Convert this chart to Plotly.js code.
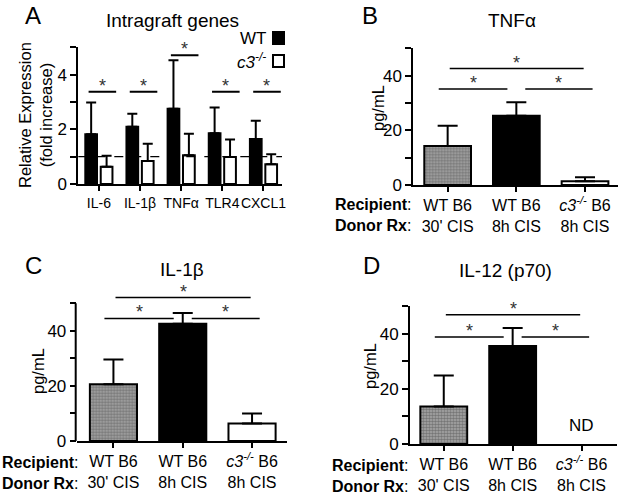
<!DOCTYPE html>
<html>
<head>
<meta charset="utf-8">
<script src="https://cdn.plot.ly/plotly-3.0.1.min.js"></script>
<style>html,body{margin:0;padding:0;background:#fff}#chart{width:626px;height:498px}</style>
</head>
<body>
<div id="chart"></div>
<script>
// ---------- Panel A: intragraft genes (fold increase) ----------
const genes = ['IL-6', 'IL-1β', 'TNFα', 'TLR4', 'CXCL1'];
const wtMean = [1.82, 2.09, 2.75, 1.86, 1.65];
const wtUpper = [2.98, 2.57, 4.53, 2.80, 2.31];
const koMean = [0.63, 0.84, 1.05, 0.99, 0.72];
const koUpper = [1.03, 1.47, 1.84, 1.63, 1.09];
const geneSigY = [3.37, 3.37, 4.71, 3.37, 3.37];

// ---------- Panels B-D: cytokines (pg/mL) ----------
const groups = ["WT B6<br>30' CIS", 'WT B6<br>8h CIS', '<i>c3<sup>-/-</sup></i> B6<br>8h CIS'];
const tnfMean = [14.3, 25.3, 1.35];
const tnfUpper = [21.7, 30.3, 2.8];
const il1bMean = [20.6, 42.6, 6.4];
const il1bUpper = [29.6, 46.5, 10.0];
const il12Mean = [13.6, 35.5, null];
const il12Upper = [24.8, 42.0, null];
// significance bracket heights: [0 vs 2, 0 vs 1 / 1 vs 2]
const tnfSig = [42.6, 35.1];
const il1bSig = [52.1, 44.5];
const il12Sig = [46.8, 38.8];

// y tick values (labelled / unlabelled)
const aTicks = [0, 2, 4], aMinor = [1, 3, 5];
const pgTicks = [0, 20, 40], pgMinor = [10, 30, 50];

const W = 626, H = 498;
const FONT = 'Liberation Sans, Arial, sans-serif';
const FS = 16;
const px = v => v / W;
const py = v => 1 - v / H;

const pattern = {shape: ['.', '', ''], size: 3, solidity: 0.55, fgcolor: '#222222', bgcolor: '#a8a8a8', fillmode: 'overlay'};

function errs(mean, upper, w) {
  return {type: 'data', symmetric: false, array: upper.map((u, i) => u == null ? null : u - mean[i]),
          arrayminus: mean.map(() => 0), color: '#000', thickness: 2, width: w};
}

const data = [
  {type: 'bar', x: genes, y: wtMean, xaxis: 'x', yaxis: 'y', width: 0.285, offset: -0.33,
   marker: {color: '#000', line: {color: '#000', width: 2}}, error_y: errs(wtMean, wtUpper, 5), showlegend: false},
  {type: 'bar', x: genes, y: koMean, xaxis: 'x', yaxis: 'y', width: 0.285, offset: 0.045,
   marker: {color: '#fff', line: {color: '#000', width: 2}}, error_y: errs(koMean, koUpper, 5), showlegend: false},
];
const cyto = [[tnfMean, tnfUpper, 'x2', 'y2'], [il1bMean, il1bUpper, 'x3', 'y3'], [il12Mean, il12Upper, 'x4', 'y4']];
cyto.forEach(([m, u, xa, ya]) => {
  data.push({type: 'bar', x: groups, y: m, xaxis: xa, yaxis: ya, width: 0.68,
    marker: {color: ['#a8a8a8', '#000', '#fff'], line: {color: '#000', width: 2}, pattern: pattern},
    error_y: errs(m, u, 10), showlegend: false});
});

const yTickFont = {family: FONT, size: 17, color: '#000'};
function xax(d0, d1, range, anchor, cats, fs) {
  return {domain: [px(d0), px(d1)], range: range, anchor: anchor, type: 'category',
    showline: true, linewidth: 2, linecolor: '#000', ticks: 'outside', ticklen: 5, tickwidth: 2, tickcolor: '#000',
    tickfont: {family: FONT, size: fs || FS, color: '#000'}, tickangle: 0, showgrid: false, zeroline: false, fixedrange: true,
    tickmode: 'array', tickvals: cats, ticktext: cats};
}
function yax(top, bottom, range, anchor, tv, mv, line) {
  return {domain: [py(bottom), py(top)], range: range, anchor: anchor, showline: line, linewidth: 2, linecolor: '#000',
    ticks: 'outside', ticklen: 6, tickwidth: 2, tickcolor: '#000', tickfont: yTickFont,
    tickmode: 'array', tickvals: tv, ticktext: tv.map(String),
    minor: {tickmode: 'array', tickvals: mv, ticks: 'outside', ticklen: 6, tickwidth: 2, tickcolor: '#000', showgrid: false},
    showgrid: false, zeroline: false, fixedrange: true};
}

// pixel placement of each panel's plot area
const yBtop = 185 - 50 * 2.734, yCtop = 441 - 56 * 2.754, yDtop = 444 - 50 * 2.76;

const layout = {
  width: W, height: H, margin: {l: 0, r: 0, t: 0, b: 0}, paper_bgcolor: '#fff', plot_bgcolor: 'rgba(0,0,0,0)',
  barmode: 'overlay', font: {family: FONT, size: FS, color: '#000'}, showlegend: false,
  xaxis: xax(78.3, 282, [-0.5, 4.45], 'y', genes, 14),
  yaxis: yax(47.3, 184, [0, 5], 'x', aTicks, aMinor, true),
  xaxis2: xax(413.3, 618, [-0.5, 2.48], 'y2', groups),
  yaxis2: yax(yBtop, 185, [0, 50], 'x2', pgTicks, pgMinor, true),
  xaxis3: xax(76.7, 286.7, [-0.53, 2.5], 'y3', groups),
  yaxis3: yax(yCtop, 441, [0, 56], 'x3', pgTicks, pgMinor, false),
  xaxis4: xax(410, 616.7, [-0.49, 2.51], 'y4', groups),
  yaxis4: yax(yDtop, 444, [0, 50], 'x4', pgTicks, pgMinor, true),
  shapes: [], annotations: []
};

// panel C: y-axis line only up to 50
layout.shapes.push({type: 'line', xref: 'paper', yref: 'y3', x0: px(76.7) - 1 / W, x1: px(76.7) - 1 / W, y0: 0, y1: 50, line: {color: '#000', width: 2}});
// panel A: dashed reference line at 1
layout.shapes.push({type: 'line', xref: 'paper', yref: 'y', x0: px(78.3), x1: px(282), y0: 1, y1: 1, line: {color: '#000', width: 1.3, dash: 'dash'}});

const ann = (o) => layout.annotations.push(Object.assign({showarrow: false, xanchor: 'center', yanchor: 'middle',
  font: {family: FONT, size: FS, color: '#000'}}, o));
const starFont = {family: FONT, size: 18, color: '#333'};

// Panel A significance bars
genes.forEach((g, i) => {
  layout.shapes.push({type: 'line', xref: 'x', yref: 'y', x0: i - 0.25, x1: i + 0.42, y0: geneSigY[i], y1: geneSigY[i], line: {color: '#000', width: 2}});
  ann({xref: 'x', yref: 'y', x: i + 0.08, y: geneSigY[i], text: '*', yanchor: 'bottom', yshift: -6, font: starFont});
});

// Panels B-D significance brackets
[[tnfSig, 'x2', 'y2'], [il1bSig, 'x3', 'y3'], [il12Sig, 'x4', 'y4']].forEach(([s, xa, ya]) => {
  const segs = [[0.03, 1.98, s[0]], [-0.13, 0.87, s[1]], [1.13, 2.11, s[1]]];
  segs.forEach(([a, b, y]) => {
    layout.shapes.push({type: 'line', xref: xa, yref: ya, x0: a, x1: b, y0: y, y1: y, line: {color: '#000', width: 1.5}});
    ann({xref: xa, yref: ya, x: (a + b) / 2, y: y, text: '*', yanchor: 'bottom', yshift: -6, font: starFont});
  });
});

// Panel letters and titles
const letterFont = {family: FONT, size: 24, color: '#000'};
const titleFont = {family: FONT, size: 19, color: '#000'};
ann({xref: 'paper', yref: 'paper', x: px(33), y: py(16), text: 'A', font: letterFont});
ann({xref: 'paper', yref: 'paper', x: px(172), y: py(20), text: 'Intragraft genes', font: titleFont});
ann({xref: 'paper', yref: 'paper', x: px(370), y: py(16), text: 'B', font: letterFont});
ann({xref: 'paper', yref: 'paper', x: px(512), y: py(20), text: 'TNFα', font: titleFont});
ann({xref: 'paper', yref: 'paper', x: px(33), y: py(265), text: 'C', font: letterFont});
ann({xref: 'paper', yref: 'paper', x: px(182), y: py(269), text: 'IL-1β', font: titleFont});
ann({xref: 'paper', yref: 'paper', x: px(371), y: py(265), text: 'D', font: letterFont});
ann({xref: 'paper', yref: 'paper', x: px(506), y: py(270), text: 'IL-12 (p70)', font: titleFont});

// y-axis titles
const yTitleFont = {family: FONT, size: 16.5, color: '#000'};
ann({xref: 'paper', yref: 'paper', x: px(36), y: py(115), text: 'Relative Expression<br>(fold increase)', textangle: -90, font: yTitleFont});
ann({xref: 'paper', yref: 'paper', x: px(378), y: py(108), text: 'pg/mL', textangle: -90, font: yTitleFont});
ann({xref: 'paper', yref: 'paper', x: px(38), y: py(371), text: 'pg/mL', textangle: -90, font: yTitleFont});
ann({xref: 'paper', yref: 'paper', x: px(370), y: py(366), text: 'pg/mL', textangle: -90, font: yTitleFont});

// row labels
[[413, 204, 225], [80, 462, 483], [410, 465, 486]].forEach(([xr, y1, y2]) => {
  ann({xref: 'paper', yref: 'paper', x: px(xr), y: py(y1), xanchor: 'right', text: '<b>Recipient</b>:'});
  ann({xref: 'paper', yref: 'paper', x: px(xr), y: py(y2), xanchor: 'right', text: '<b>Donor Rx</b>:'});
});

// ND label
ann({xref: 'x4', yref: 'y4', x: 2, y: 6.7, text: 'ND', font: {family: FONT, size: 17, color: '#000'}});

// Panel A legend
ann({xref: 'paper', yref: 'paper', x: px(268), y: py(38), xanchor: 'right', text: 'WT', font: {family: FONT, size: 17, color: '#000'}});
ann({xref: 'paper', yref: 'paper', x: px(268), y: py(61), xanchor: 'right', text: '<i>c3<sup>-/-</sup></i>', font: {family: FONT, size: 17, color: '#000'}});
layout.shapes.push({type: 'rect', xref: 'paper', yref: 'paper', x0: px(273), x1: px(284), y0: py(44), y1: py(32), fillcolor: '#000', line: {color: '#000', width: 2}});
layout.shapes.push({type: 'rect', xref: 'paper', yref: 'paper', x0: px(273), x1: px(284), y0: py(67), y1: py(55), fillcolor: '#fff', line: {color: '#000', width: 2}});

Plotly.newPlot('chart', data, layout, {displayModeBar: false, staticPlot: true});
</script>
</body>
</html>
